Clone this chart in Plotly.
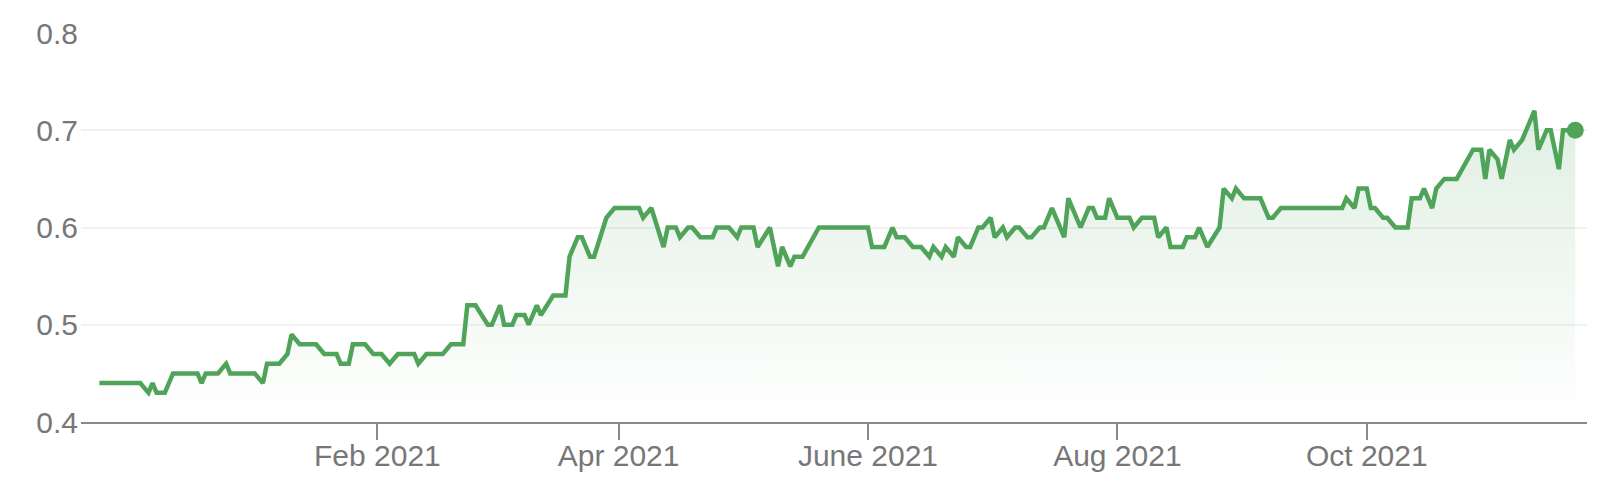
import plotly.graph_objects as go

# ---- data ----
dates = [
    "2020-11-25", "2020-12-05", "2020-12-07", "2020-12-08", "2020-12-09", "2020-12-11",
    "2020-12-13", "2020-12-19", "2020-12-20", "2020-12-21", "2020-12-24", "2020-12-26",
    "2020-12-27", "2021-01-02", "2021-01-04", "2021-01-05", "2021-01-08", "2021-01-10",
    "2021-01-11", "2021-01-13", "2021-01-17", "2021-01-19", "2021-01-22", "2021-01-23",
    "2021-01-25", "2021-01-26", "2021-01-29", "2021-01-31", "2021-02-02", "2021-02-04",
    "2021-02-06", "2021-02-10", "2021-02-11", "2021-02-13", "2021-02-17", "2021-02-19",
    "2021-02-22", "2021-02-23", "2021-02-25", "2021-02-28", "2021-03-01", "2021-03-03",
    "2021-03-04", "2021-03-06", "2021-03-07", "2021-03-09", "2021-03-10", "2021-03-12",
    "2021-03-13", "2021-03-16", "2021-03-19", "2021-03-20", "2021-03-22", "2021-03-23",
    "2021-03-25", "2021-03-26", "2021-03-29", "2021-03-31", "2021-04-06", "2021-04-07",
    "2021-04-09", "2021-04-12", "2021-04-13", "2021-04-15", "2021-04-16", "2021-04-18",
    "2021-04-19", "2021-04-21", "2021-04-24", "2021-04-25", "2021-04-28", "2021-04-30",
    "2021-05-01", "2021-05-04", "2021-05-05", "2021-05-08", "2021-05-10", "2021-05-11",
    "2021-05-13", "2021-05-14", "2021-05-16", "2021-05-20", "2021-06-01", "2021-06-02",
    "2021-06-05", "2021-06-07", "2021-06-08", "2021-06-10", "2021-06-12", "2021-06-14",
    "2021-06-16", "2021-06-17", "2021-06-19", "2021-06-20", "2021-06-22", "2021-06-23",
    "2021-06-25", "2021-06-26", "2021-06-28", "2021-06-29", "2021-07-01", "2021-07-02",
    "2021-07-04", "2021-07-05", "2021-07-07", "2021-07-08", "2021-07-10", "2021-07-11",
    "2021-07-13", "2021-07-14", "2021-07-16", "2021-07-19", "2021-07-20", "2021-07-22",
    "2021-07-23", "2021-07-25", "2021-07-26", "2021-07-27", "2021-07-29", "2021-07-30",
    "2021-08-01", "2021-08-04", "2021-08-05", "2021-08-07", "2021-08-10", "2021-08-11",
    "2021-08-13", "2021-08-14", "2021-08-17", "2021-08-18", "2021-08-20", "2021-08-21",
    "2021-08-23", "2021-08-26", "2021-08-27", "2021-08-29", "2021-08-30", "2021-09-01",
    "2021-09-05", "2021-09-07", "2021-09-08", "2021-09-10", "2021-09-25", "2021-09-26",
    "2021-09-28", "2021-09-29", "2021-10-01", "2021-10-02", "2021-10-03", "2021-10-05",
    "2021-10-06", "2021-10-08", "2021-10-11", "2021-10-12", "2021-10-14", "2021-10-15",
    "2021-10-17", "2021-10-18", "2021-10-20", "2021-10-23", "2021-10-27", "2021-10-29",
    "2021-10-30", "2021-10-31", "2021-11-02", "2021-11-03", "2021-11-05", "2021-11-06",
    "2021-11-08", "2021-11-09", "2021-11-11", "2021-11-12", "2021-11-14", "2021-11-15",
    "2021-11-17", "2021-11-18", "2021-11-21",
]
prices = [
    0.44, 0.44, 0.43, 0.44, 0.43, 0.43,
    0.45, 0.45, 0.44, 0.45, 0.45, 0.46,
    0.45, 0.45, 0.44, 0.46, 0.46, 0.47,
    0.49, 0.48, 0.48, 0.47, 0.47, 0.46,
    0.46, 0.48, 0.48, 0.47, 0.47, 0.46,
    0.47, 0.47, 0.46, 0.47, 0.47, 0.48,
    0.48, 0.52, 0.52, 0.50, 0.50, 0.52,
    0.50, 0.50, 0.51, 0.51, 0.50, 0.52,
    0.51, 0.53, 0.53, 0.57, 0.59, 0.59,
    0.57, 0.57, 0.61, 0.62, 0.62, 0.61,
    0.62, 0.58, 0.60, 0.60, 0.59, 0.60,
    0.60, 0.59, 0.59, 0.60, 0.60, 0.59,
    0.60, 0.60, 0.58, 0.60, 0.56, 0.58,
    0.56, 0.57, 0.57, 0.60, 0.60, 0.58,
    0.58, 0.60, 0.59, 0.59, 0.58, 0.58,
    0.57, 0.58, 0.57, 0.58, 0.57, 0.59,
    0.58, 0.58, 0.60, 0.60, 0.61, 0.59,
    0.60, 0.59, 0.60, 0.60, 0.59, 0.59,
    0.60, 0.60, 0.62, 0.59, 0.63, 0.61,
    0.60, 0.62, 0.62, 0.61, 0.61, 0.63,
    0.61, 0.61, 0.60, 0.61, 0.61, 0.59,
    0.60, 0.58, 0.58, 0.59, 0.59, 0.60,
    0.58, 0.60, 0.64, 0.63, 0.64, 0.63,
    0.63, 0.61, 0.61, 0.62, 0.62, 0.63,
    0.62, 0.64, 0.64, 0.62, 0.62, 0.61,
    0.61, 0.60, 0.60, 0.63, 0.63, 0.64,
    0.62, 0.64, 0.65, 0.65, 0.68, 0.68,
    0.65, 0.68, 0.67, 0.65, 0.69, 0.68,
    0.69, 0.70, 0.72, 0.68, 0.70, 0.70,
    0.66, 0.70, 0.70,
]
tick_dates = ["2021-02-01", "2021-04-01", "2021-06-01", "2021-08-01", "2021-10-01"]
tick_labels = ["Feb 2021", "Apr 2021", "June 2021", "Aug 2021", "Oct 2021"]
y_ticks = [0.4, 0.5, 0.6, 0.7, 0.8]

GREEN = "#50a45a"
LABEL = "#777777"
FONT = "Liberation Sans, Arial, sans-serif"

fig = go.Figure()
fig.add_trace(go.Scatter(
    x=dates, y=prices, mode="lines",
    line=dict(color=GREEN, width=4.5),
    fill="tozeroy",
    fillgradient=dict(
        type="vertical", start=0.4, stop=0.8,
        colorscale=[[0, "rgba(80,164,90,0)"], [1, "rgba(80,164,90,0.22)"]],
    ),
    hoverinfo="x+y", showlegend=False,
))
fig.add_trace(go.Scatter(
    x=[dates[-1]], y=[prices[-1]], mode="markers",
    marker=dict(color=GREEN, size=17),
    showlegend=False, hoverinfo="skip", cliponaxis=False,
))

fig.update_layout(
    width=1610, height=492,
    margin=dict(l=81, r=23, t=33, b=70, autoexpand=False),
    paper_bgcolor="white", plot_bgcolor="white",
    font=dict(family=FONT, size=30, color=LABEL),
    xaxis=dict(
        type="date", automargin=False,
        range=["2020-11-20 12:00", "2021-11-23 21:00"],
        tickvals=tick_dates, ticktext=tick_labels,
        showgrid=False, zeroline=False,
        showline=True, linecolor="#8a8a8a", linewidth=2,
        ticks="outside", ticklen=16, tickwidth=2, tickcolor="#8a8a8a",
        ticklabelstandoff=-10,
        tickfont=dict(family=FONT, size=30, color=LABEL),
    ),
    yaxis=dict(
        range=[0.4, 0.8], tickvals=y_ticks, automargin=False,
        ticktext=[f"{v:.1f}" for v in y_ticks],
        showgrid=True, gridcolor="#f2f2f2", gridwidth=2,
        zeroline=False, showline=False, ticks="",
        ticklabelstandoff=2,
        tickfont=dict(family=FONT, size=30, color=LABEL),
    ),
)

fig.write_html(
    "out.html",
    config={"responsive": False, "displayModeBar": False},
    post_script="document.body.style.margin='0';document.body.style.overflow='hidden';",
)
